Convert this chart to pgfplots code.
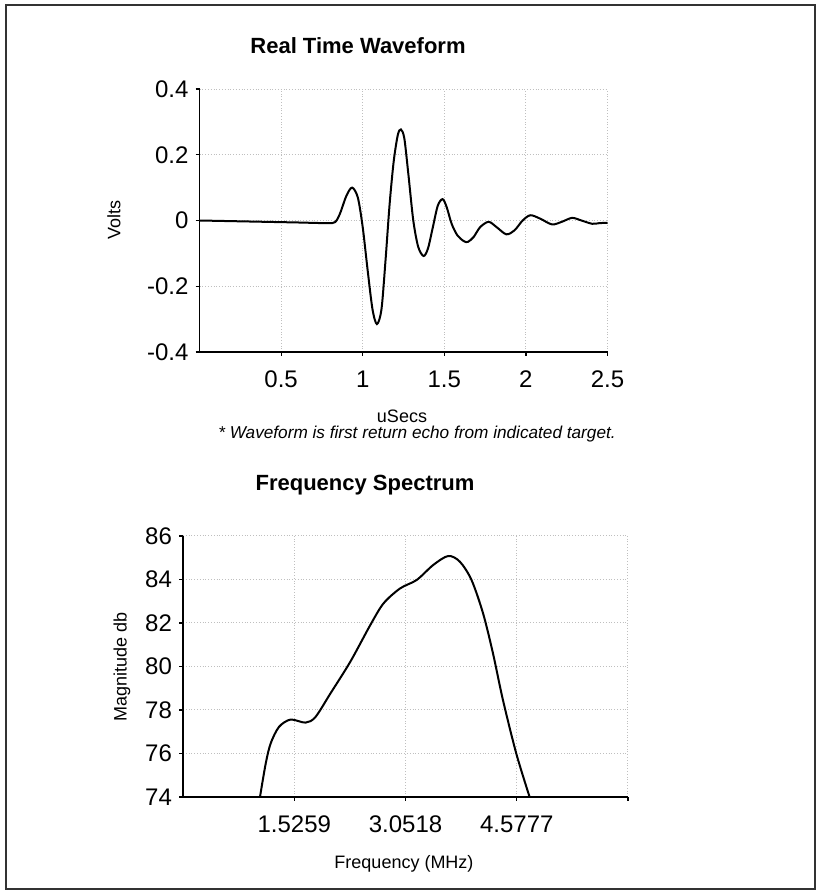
\documentclass[border=0pt]{standalone}
\usepackage{pgfplots}
\pgfplotsset{compat=1.18}
\usepackage{fontspec}
\setmainfont{Liberation Sans}
\begin{document}
\begin{tikzpicture}
\useasboundingbox (0,0) rectangle (409pt,447pt);
\draw[line width=0.8pt, black!80] (3pt,2.5pt) rectangle (407.5pt,444.5pt);
\pgfplotsset{
  every axis/.append style={
    scale only axis, anchor=south west,
    axis x line*=bottom, axis y line*=left,
    axis line style={-, line width=0.8pt, black},
    tick align=outside, major tick length=2pt,
    tick style={black, line width=0.6pt},
    grid=major, grid style={black!25, densely dotted, line width=0.5pt},
    /pgf/number format/assume math mode=true,
    ticklabel style={font=\fontsize{12}{14}\selectfont},
    xticklabel shift=4pt,
  }
}
% Real Time Waveform
\begin{axis}[at={(99.75pt,271pt)}, width=204pt, height=131.5pt,
  xmin=0, xmax=2.5, ymin=-0.4, ymax=0.4,
  xtick={0.5,1,1.5,2,2.5}, xticklabels={0.5,1,1.5,2,2.5},
  ytick={-0.4,-0.2,0,0.2,0.4}, yticklabels={-0.4,-0.2,0,0.2,0.4}]
\addplot[black, line width=1pt, smooth, tension=0.5] coordinates {
(0,0.000) (0.2,-0.002) (0.4,-0.004) (0.6,-0.006) (0.78,-0.008) (0.83,-0.005)
(0.86,0.02) (0.90,0.075) (0.935,0.10) (0.97,0.07) (1.00,-0.02) (1.03,-0.15)
(1.06,-0.27) (1.087,-0.315) (1.115,-0.27) (1.14,-0.12) (1.165,0.05) (1.19,0.18)
(1.215,0.26) (1.234,0.277) (1.255,0.25) (1.28,0.14) (1.31,0.0) (1.34,-0.08)
(1.373,-0.108) (1.40,-0.085) (1.43,-0.02) (1.46,0.045) (1.49,0.065) (1.515,0.04)
(1.545,-0.01) (1.58,-0.045) (1.62,-0.063) (1.645,-0.065) (1.68,-0.05) (1.72,-0.02)
(1.772,-0.004) (1.82,-0.02) (1.88,-0.042) (1.93,-0.03) (1.98,0.0) (2.028,0.016)
(2.09,0.005) (2.16,-0.012) (2.22,-0.004) (2.283,0.008) (2.34,0.0) (2.406,-0.01)
(2.45,-0.008) (2.5,-0.007)};
\end{axis}
% Frequency Spectrum
\begin{axis}[at={(91.5pt,48.5pt)}, width=222.5pt, height=130.5pt,
  xmin=0, xmax=6.1036, ymin=74, ymax=86,
  xtick={1.5259,3.0518,4.5777,6.1036}, xticklabels={1.5259,3.0518,4.5777,{}},
  ytick={74,76,78,80,82,84,86}]
\addplot[black, line width=1pt, smooth, tension=0.5] coordinates {
(1.056,74.0) (1.134,75.53) (1.202,76.46) (1.316,77.22) (1.475,77.56) (1.680,77.42)
(1.817,77.68) (2.022,78.76) (2.295,80.22) (2.568,81.90) (2.750,82.90) (2.978,83.59)
(3.206,83.98) (3.433,84.67) (3.638,85.08) (3.797,84.82) (3.957,83.98) (4.116,82.44)
(4.252,80.60) (4.389,78.45) (4.572,75.99) (4.754,74.0)};
\end{axis}
\node[font=\fontsize{11}{13}\selectfont\bfseries] at (179pt,424pt) {Real Time Waveform};
\node[font=\fontsize{11}{13}\selectfont\bfseries] at (182.5pt,204.5pt) {Frequency Spectrum};
\node[font=\fontsize{9}{11}\selectfont, rotate=90] at (57pt,337pt) {Volts};
\node[font=\fontsize{9}{11}\selectfont, rotate=90] at (61pt,113.5pt) {Magnitude db};
\node[font=\fontsize{9}{11}\selectfont] at (201pt,239pt) {uSecs};
\node[font=\fontsize{8.6}{10}\selectfont\itshape] at (208.5pt,230pt) {* Waveform is first return echo from indicated target.};
\node[font=\fontsize{9}{11}\selectfont] at (202pt,15pt) {Frequency (MHz)};
\end{tikzpicture}
\end{document}
